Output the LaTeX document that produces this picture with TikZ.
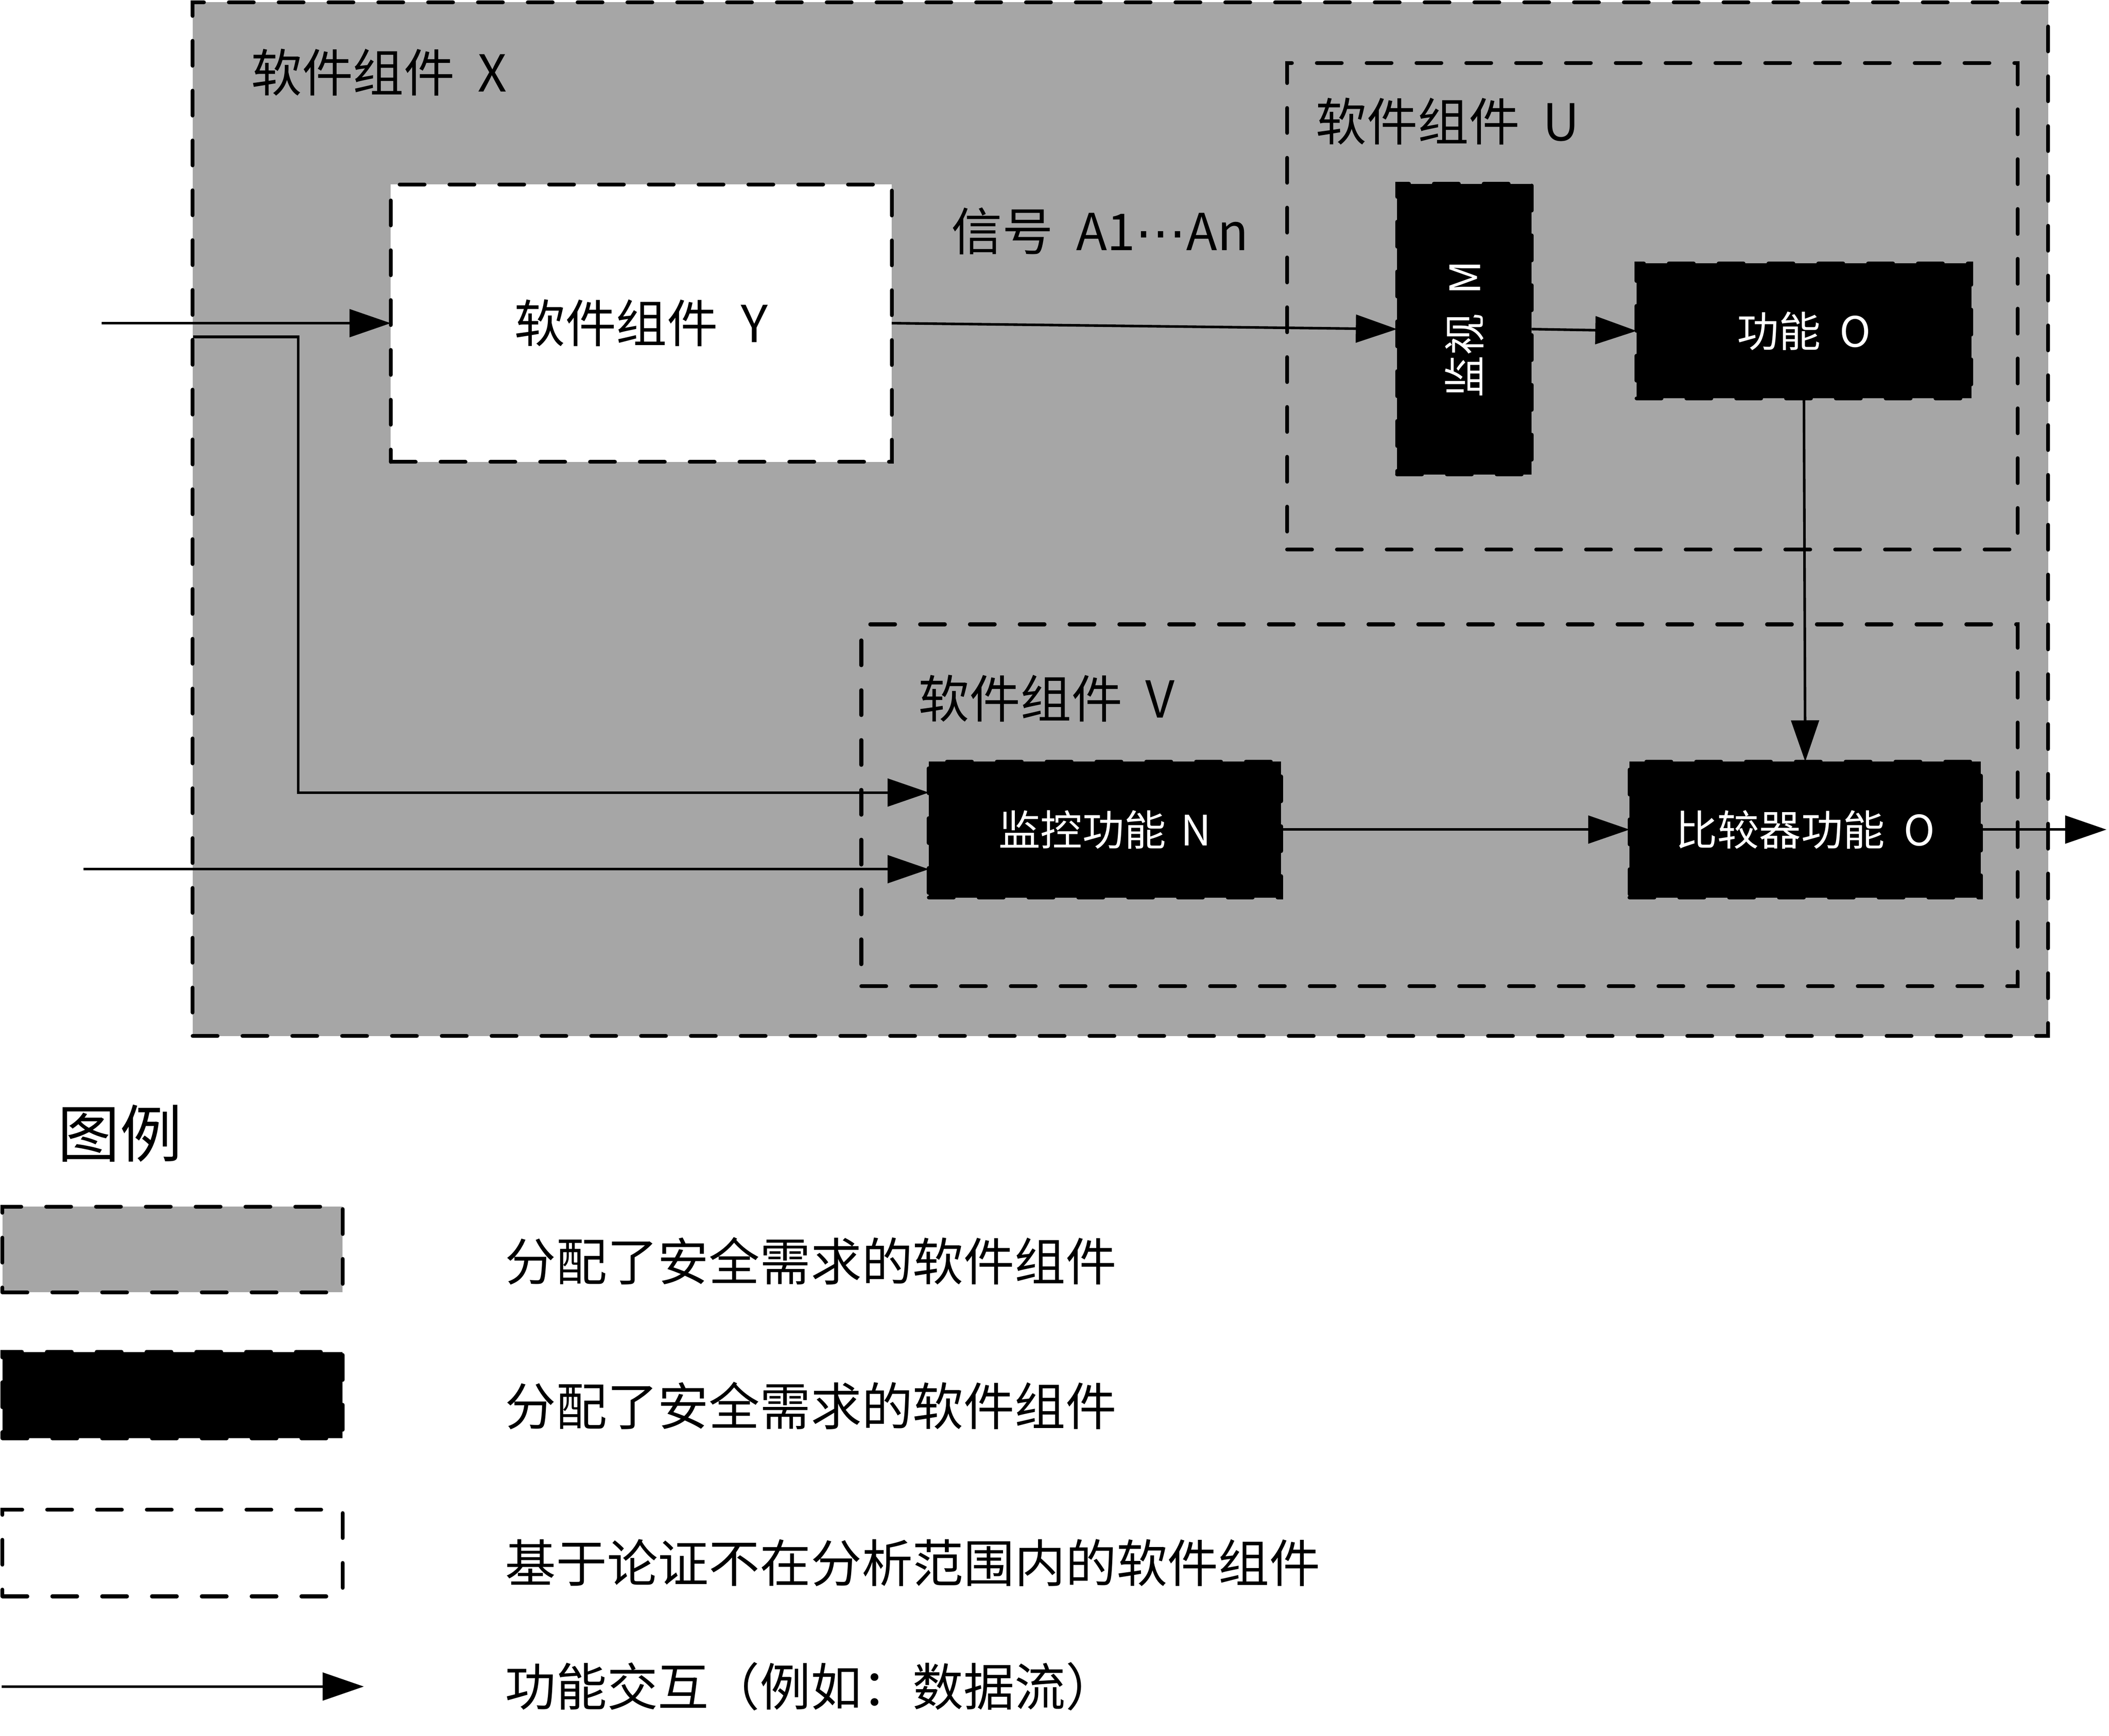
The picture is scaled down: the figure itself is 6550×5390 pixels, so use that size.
\documentclass[tikz,border=0pt]{standalone}
\usepackage{fontspec}
\setmainfont{Noto Sans CJK SC}
\newfontfamily\symfont{DejaVu Sans}
\usetikzlibrary{arrows.meta}
\definecolor{compgray}{RGB}{166,166,166}
\tikzset{
  dbox/.style={draw=black, line width=0.12cm, dash pattern=on 22pt off 22pt, line cap=round, inner sep=0pt, outer sep=0pt},
  graycomp/.style={dbox, fill=compgray},
  blackcomp/.style={dbox, fill=black, text=white, font=\fontsize{37pt}{44pt}\selectfont},
  whitecomp/.style={dbox, fill=white, font=\fontsize{45pt}{54pt}\selectfont},
  opencomp/.style={dbox},
  lbl/.style={font=\fontsize{45pt}{54pt}\selectfont, inner sep=0pt, anchor=west},
  flow/.style={line width=0.08cm, -{Triangle[length=1.28cm,width=0.86cm]}},
  plainflow/.style={line width=0.08cm}
}
\begin{document}
\begin{tikzpicture}[x=0.01cm,y=-0.01cm]
\useasboundingbox (0,0) rectangle (6550,5390);
% main components
\node[graycomp, minimum width=57.59cm, minimum height=32.08cm] (X) at (3479.5,1612) {};
\node[whitecomp, minimum width=15.55cm, minimum height=8.61cm] (Y) at (1991.5,1003.5) {软件组件\hspace{0.45em}Y};
\node[opencomp, minimum width=22.68cm, minimum height=15.10cm] (U) at (5132,951) {};
\node[opencomp, minimum width=35.89cm, minimum height=11.23cm] (V) at (4470.5,2500.5) {};
\node[blackcomp, minimum width=4.18cm, minimum height=9.02cm] (M) at (4548,1022) {\rotatebox{90}{监视\hspace{0.45em}M}};
\node[blackcomp, minimum width=10.39cm, minimum height=4.19cm] (O) at (5602.5,1027.5) {功能\hspace{0.45em}O};
\node[blackcomp, minimum width=10.93cm, minimum height=4.22cm] (N) at (3431.5,2576) {监控功能\hspace{0.35em}N};
\node[blackcomp, minimum width=10.91cm, minimum height=4.22cm] (C) at (5606.5,2576) {比较器功能\hspace{0.45em}O};
% labels
\node[lbl] (lX) at (779,225) {软件组件\hspace{0.45em}X};
\node[lbl] (lU) at (4086,377) {软件组件\hspace{0.45em}U};
\node[lbl] (lV) at (2852,2169) {软件组件\hspace{0.45em}V};
\node[lbl] (sig) at (2954,718) {信号\hspace{0.45em}A1{\symfont ⋯}An};
% connectors
\coordinate (inY) at (316,1003.5);
\coordinate (br) at (600,1046);
\coordinate (brc) at (926,1046);
\coordinate (nA) at (926,2461);
\coordinate (inN) at (259,2699);
\coordinate (out) at (6542,2576);
\draw[flow] (inY) -- (Y.west);
\draw[flow] (br) -- (brc) -- (nA) -- (nA -| N.west);
\draw[flow] (inN) -- (inN -| N.west);
\draw[flow] (Y.east) -- (M.west);
\draw[flow] (M.east) -- (O.west);
\draw[flow] (O.south) -- (C.north);
\draw[flow] (N.east) -- (C.west);
\draw[flow] (C.east) -- (out);
% legend
\node[lbl, font=\fontsize{55pt}{66pt}\selectfont] (lg) at (178,3519) {图例};
\node[graycomp, minimum width=10.56cm, minimum height=2.66cm] (lg1) at (536,3880) {};
\node[blackcomp, minimum width=10.56cm, minimum height=2.68cm] (lg2) at (536,4332) {};
\node[opencomp, fill=white, minimum width=10.56cm, minimum height=2.69cm] (lg3) at (536,4822.5) {};
\coordinate (la) at (5,5237);
\coordinate (lb) at (1130,5237);
\draw[flow] (la) -- (lb);
\node[lbl] (t1) at (1568,3916) {分配了安全需求的软件组件};
\node[lbl] (t2) at (1568,4365) {分配了安全需求的软件组件};
\node[lbl] (t3) at (1568,4853) {基于论证不在分析范围内的软件组件};
\node[lbl] (t4) at (1568,5237) {功能交互（例如：数据流）};
\end{tikzpicture}
\end{document}
